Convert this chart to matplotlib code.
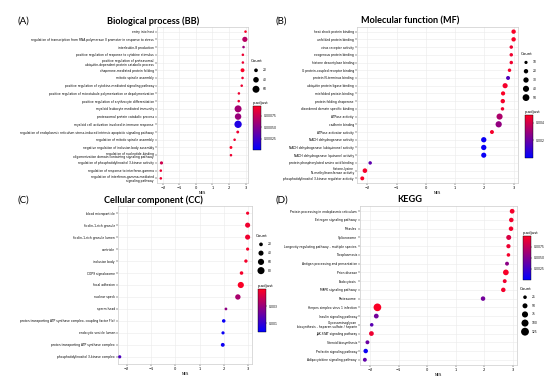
import numpy as np
import matplotlib
matplotlib.use("Agg")
import matplotlib.pyplot as plt
from matplotlib.colors import LinearSegmentedColormap

# ---- (A) Biological process
bp_terms = [
    "entry into host",
    "regulation of transcription from RNA polymerase II promoter in response to stress",
    "interleukin-8 production",
    "positive regulation of response to cytokine stimulus",
    "positive regulation of proteasomal\nubiquitin-dependent protein catabolic process",
    "chaperone-mediated protein folding",
    "mitotic spindle assembly",
    "positive regulation of cytokine-mediated signaling pathway",
    "positive regulation of microtubule polymerization or depolymerization",
    "positive regulation of erythrocyte differentiation",
    "myeloid leukocyte mediated immunity",
    "proteasomal protein catabolic process",
    "myeloid cell activation involved in immune response",
    "regulation of endoplasmic reticulum stress-induced intrinsic apoptotic signaling pathway",
    "regulation of mitotic spindle assembly",
    "negative regulation of inclusion body assembly",
    "regulation of nucleotide-binding\noligomerization domain containing signaling pathway",
    "regulation of phosphatidylinositol 3-kinase activity",
    "regulation of response to interferon-gamma",
    "regulation of interferon-gamma-mediated\nsignaling pathway",
]
bp_nes = [3.0, 2.96, 2.88, 2.84, 2.84, 2.82, 2.82, 2.77, 2.6, 2.59,
          2.55, 2.55, 2.55, 2.53, 2.34, 2.12, 2.12, -2.08, -2.12, -2.12]
bp_count = [12, 35, 12, 12, 12, 22, 12, 12, 12, 12,
            60, 52, 66, 14, 12, 14, 12, 16, 12, 12]
bp_padj = [0.00095, 0.0007, 0.0006, 0.0009, 0.0009, 0.00095, 0.0009, 0.0009, 0.0009, 0.0009,
           0.00062, 0.00058, 0.00012, 0.0009, 0.0009, 0.00095, 0.0009, 0.00078, 0.0009, 0.0009]
bp_size_ticks = [20, 40, 60]
bp_cbar_ticks = [0.00025, 0.0005, 0.00075]

# ---- (B) Molecular function
mf_terms = [
    "heat shock protein binding",
    "unfolded protein binding",
    "virus receptor activity",
    "exogenous protein binding",
    "histone deacetylase binding",
    "G protein-coupled receptor binding",
    "protein N-terminus binding",
    "ubiquitin protein ligase binding",
    "misfolded protein binding",
    "protein folding chaperone",
    "disordered domain specific binding",
    "ATPase activity",
    "cadherin binding",
    "ATPase activator activity",
    "NADH dehydrogenase activity",
    "NADH dehydrogenase (ubiquinone) activity",
    "NADH dehydrogenase (quinone) activity",
    "protein phosphorylated amino acid binding",
    "histone-lysine\nN-methyltransferase activity",
    "phosphatidylinositol 3-kinase regulator activity",
]
mf_nes = [3.0, 3.0, 2.92, 2.92, 2.92, 2.86, 2.81, 2.71, 2.64, 2.63,
          2.62, 2.52, 2.49, 2.26, 1.98, 1.98, 1.98, -1.9, -2.08, -2.17]
mf_count = [20, 20, 12, 12, 12, 12, 16, 28, 18, 20,
            12, 40, 42, 16, 30, 30, 28, 12, 22, 16]
mf_padj = [0.0048, 0.0048, 0.0046, 0.0046, 0.0046, 0.0047, 0.0015, 0.0047, 0.0048, 0.0047,
           0.0046, 0.0033, 0.0028, 0.0047, 0.0002, 0.0002, 0.0002, 0.0018, 0.0047, 0.0048]
mf_size_ticks = [10, 20, 30, 40, 50]
mf_cbar_ticks = [0.002, 0.004]

# ---- (C) Cellular component
cc_terms = [
    "blood microparticle",
    "ficolin-1-rich granule",
    "ficolin-1-rich granule lumen",
    "centriole",
    "inclusion body",
    "COP9 signalosome",
    "focal adhesion",
    "nuclear speck",
    "sperm head",
    "proton-transporting ATP synthase complex, coupling factor F(o)",
    "endocytic vesicle lumen",
    "proton-transporting ATP synthase complex",
    "phosphatidylinositol 3-kinase complex",
]
cc_nes = [2.97, 2.97, 2.97, 2.97, 2.9, 2.72, 2.69, 2.57, 2.08, 1.99, 1.96, 1.95, -2.28]
cc_count = [14, 40, 40, 14, 16, 18, 60, 45, 10, 18, 14, 22, 14]
cc_padj = [0.0048, 0.0047, 0.0047, 0.0048, 0.0048, 0.0048, 0.0049, 0.0033, 0.0028, 0.0002,
           0.0002, 0.0003, 0.0015]
cc_size_ticks = [20, 40, 60, 80]
cc_cbar_ticks = [0.001, 0.003, 0.005]

# ---- (D) KEGG
kegg_terms = [
    "Protein processing in endoplasmic reticulum",
    "Estrogen signaling pathway",
    "Measles",
    "Spliceosome",
    "Longevity regulating pathway - multiple species",
    "Toxoplasmosis",
    "Antigen processing and presentation",
    "Prion disease",
    "Endocytosis",
    "MAPK signaling pathway",
    "Proteasome",
    "Herpes simplex virus 1 infection",
    "Insulin signaling pathway",
    "Glycosaminoglycan\nbiosynthesis - heparan sulfate / heparin",
    "JAK-STAT signaling pathway",
    "Steroid biosynthesis",
    "Prolactin signaling pathway",
    "Adipocytokine signaling pathway",
]
kegg_nes = [2.98, 2.95, 2.94, 2.86, 2.85, 2.85, 2.8, 2.76, 2.72, 2.67,
            1.96, -1.74, -1.78, -1.94, -1.95, -2.09, -2.15, -2.18]
kegg_count = [45, 40, 40, 50, 35, 25, 30, 65, 30, 40,
              40, 120, 45, 25, 45, 30, 40, 30]
kegg_padj = [0.0096, 0.0095, 0.0095, 0.0085, 0.0093, 0.0096, 0.0055, 0.0097, 0.0094, 0.0096,
             0.0045, 0.0098, 0.0045, 0.0035, 0.0093, 0.0042, 0.0005, 0.0038]
kegg_size_ticks = [25, 50, 75, 100, 125]
kegg_cbar_ticks = [0.0025, 0.005, 0.0075, 0.01]

cmap = LinearSegmentedColormap.from_list("bluered", ["#0000ff", "#ff0022"])
grid_col = "#ebebeb"
head_font = ["Liberation Sans Narrow", "Lato", "DejaVu Sans"]

fig = plt.figure(figsize=(5.5, 3.84), dpi=100)
W, H = 550.0, 384.0


def r(x0, y0, x1, y1):
    # pixel box (from top-left) -> figure fraction rect
    return [x0 / W, 1 - y1 / H, (x1 - x0) / W, (y1 - y0) / H]


def size_of(c, smin, smax, cmin, cmax):
    c = np.asarray(c, dtype=float)
    return smin + (c - cmin) / (cmax - cmin) * (smax - smin)


def draw_panel(box, terms, nes, count, padj, size_ticks, cbar_ticks,
               title, tag, head, leg_box, cbar_box, smin=2.5, smax=26):
    ax = fig.add_axes(r(*box))
    n = len(terms)
    y = np.arange(n)[::-1]
    cmin, cmax = min(size_ticks) * 0.5, max(max(count), max(size_ticks))
    vmin, vmax = 0.0, max(padj) * 1.02
    sc = ax.scatter(nes, y, s=size_of(count, smin, smax, cmin, cmax), c=padj,
                    cmap=cmap, vmin=vmin, vmax=vmax, zorder=3, linewidths=0)
    ax.set_yticks(y)
    ax.set_yticklabels(terms, fontsize=2.2, linespacing=0.9)
    ax.set_ylim(-0.6, n - 0.4)
    ax.set_xlim(-2.35, 3.15)
    ax.set_xticks([-2, -1, 0, 1, 2, 3])
    ax.tick_params(axis="x", labelsize=2.6, length=1.2, width=0.3, pad=1)
    ax.tick_params(axis="y", length=1.2, width=0.3, pad=1)
    ax.set_xlabel("NES", fontsize=2.6, labelpad=0.5)
    ax.grid(True, color=grid_col, lw=0.4)
    ax.set_axisbelow(True)
    for sp in ax.spines.values():
        sp.set_color("#cccccc")
        sp.set_linewidth(0.5)

    # panel tag and title, placed over the whole half of the figure
    fig.text(head[0] / W, 1 - head[2] / H, tag, fontsize=7, va="center",
             family=head_font)
    fig.text(head[1] / W, 1 - head[2] / H, title, fontsize=6.6, fontweight="bold",
             ha="center", va="center", family=head_font)

    # size legend drawn in its own small axes
    lax = fig.add_axes(r(*leg_box))
    lax.set_axis_off()
    k = len(size_ticks)
    lax.set_xlim(0, 1)
    lax.set_ylim(-0.5, k + 0.3)
    ly = np.arange(k)[::-1]
    lax.scatter(np.full(k, 0.25), ly, s=size_of(size_ticks, smin, smax, cmin, cmax),
                color="black", linewidths=0, clip_on=False)
    for yy, t in zip(ly, size_ticks):
        lax.text(0.6, yy, str(t), fontsize=2.2, va="center")
    lax.text(0.0, k, "Count", fontsize=2.8, va="center")

    # colour bar
    cax = fig.add_axes(r(*cbar_box))
    cb = fig.colorbar(sc, cax=cax, ticks=cbar_ticks)
    cb.outline.set_linewidth(0.3)
    cb.ax.tick_params(labelsize=2.2, length=1, width=0.3, pad=1)
    cax.set_title("p.adjust", fontsize=2.8, loc="left", pad=1.5)
    return ax


draw_panel((157, 27, 248, 183), bp_terms, bp_nes, bp_count, bp_padj,
           bp_size_ticks, bp_cbar_ticks, "Biological process (BB)", "(A)", (18, 153, 21),
           (251, 58, 271, 94), (253, 106, 261, 150), smin=2.5, smax=28)
draw_panel((357, 27, 518, 183), mf_terms, mf_nes, mf_count, mf_padj,
           mf_size_ticks, mf_cbar_ticks, "Molecular function (MF)", "(B)", (276, 410, 21),
           (521, 51, 541, 102), (525, 115, 533, 158), smin=3, smax=24)
draw_panel((118, 206, 252, 364), cc_terms, cc_nes, cc_count, cc_padj,
           cc_size_ticks, cc_cbar_ticks, "Cellular component (CC)", "(C)", (18, 153, 200),
           (256, 233, 276, 275), (258, 289, 266, 332), smin=4, smax=26)
draw_panel((360, 206, 517, 365), kegg_terms, kegg_nes, kegg_count, kegg_padj,
           kegg_size_ticks, kegg_cbar_ticks, "KEGG", "(D)", (276, 410, 200),
           (520, 286, 540, 336), (523, 236, 531, 280), smin=3.5, smax=32)

fig.savefig("out.png", dpi=100)
